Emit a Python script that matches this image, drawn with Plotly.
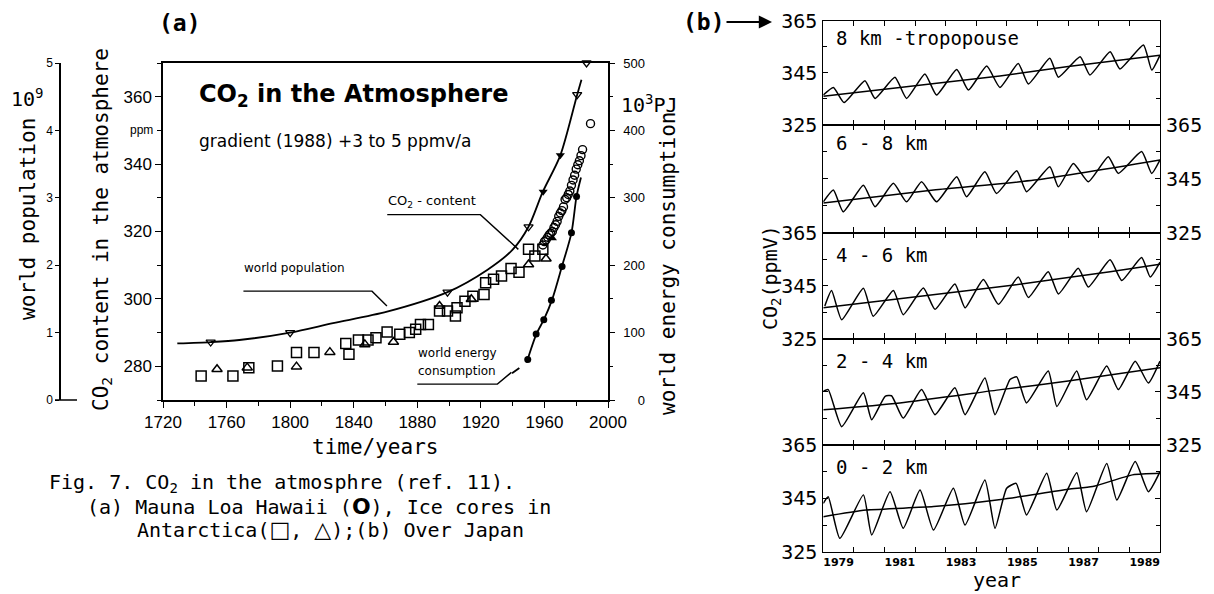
import plotly.graph_objects as go

# The page body has an 8px margin, so the figure is drawn 8px in from the top-left corner.
OFF = 8
W, H = 1214 - OFF, 594 - OFF
def px(x):
    return (x - OFF) / W
def py(y):
    return 1 - (y - OFF) / H

MONO = "DejaVu Sans Mono"
SANS = "Liberation Sans, Arial"
DSANS = "DejaVu Sans"
BLACK = "black"

# ---------------- Panel (a) data ----------------
pop_curve_year = [1729, 1750, 1768, 1800, 1827, 1861, 1899, 1924, 1940, 1950, 1959, 1970, 1980.6, 1983.3]
pop_curve_val = [0.84, 0.86, 0.89, 1.00, 1.14, 1.31, 1.60, 1.93, 2.23, 2.57, 3.09, 3.63, 4.53, 4.75]
pop_open_year = [1750, 1800, 1899, 1950, 1980.6, 1986.5]
pop_open_val = [0.86, 1.00, 1.60, 2.57, 4.53, 5.00]
pop_fill_year = [1959.2, 1970]
pop_fill_val = [3.09, 3.63]

sq_year = [1744, 1764, 1774, 1792, 1804, 1815, 1835, 1837, 1843, 1849, 1854, 1861, 1869, 1875,
           1879, 1882, 1887, 1894, 1899, 1904, 1905, 1910, 1915, 1922, 1923, 1928, 1933, 1939,
           1944, 1950, 1954, 1959]
sq_val = [277.1, 277.1, 279.6, 280.1, 284.1, 284.1, 286.8, 283.6, 287.8, 287.8, 288.5, 290.2, 289.5, 290.0,
          291.0, 292.4, 292.4, 296.4, 296.4, 294.9, 297.4, 299.3, 300.8, 301.3, 304.8, 305.8, 306.8, 309.0,
          307.9, 314.7, 312.7, 314.7]
tri_year = [1754, 1773, 1804, 1825, 1847, 1865, 1894, 1914, 1950, 1961]
tri_val = [279.1, 279.6, 279.9, 284.2, 286.5, 287.2, 297.9, 299.9, 310.2, 311.9]
tri_fill_year = [1965]
tri_fill_val = [318.0]
ml_year = [1959, 1960, 1961, 1962, 1963, 1964, 1965, 1966, 1967, 1968, 1969, 1970, 1971, 1972,
           1973, 1974, 1975, 1976, 1977, 1978, 1979, 1980, 1981, 1982, 1983, 1984, 1989]
ml_val = [316.0, 317.0, 317.5, 318.3, 319.0, 319.5, 320.0, 321.2, 322.0, 323.0, 324.5, 325.5, 326.2, 327.3,
          329.5, 330.0, 331.0, 332.0, 333.7, 335.3, 336.7, 338.5, 339.8, 341.0, 342.5, 344.3, 352.0]

en_pt_year = [1949.5, 1954.8, 1959.6, 1964.4, 1971.1, 1977.0, 1980.2]
en_pt_val = [60, 98, 119, 148, 198, 248, 302]
en_curve_year = [1949, 1955, 1960, 1965, 1971, 1977, 1980.2, 1983]
en_curve_val = [57, 98, 121, 150, 198, 248, 302, 330]
en_dash_year = [1939.6, 1944, 1949]
en_dash_val = [39.6, 47, 57]

x_ticks_a = [1720, 1760, 1800, 1840, 1880, 1920, 1960, 2000]
co2_ticks = [280, 300, 320, 340, 360]
pop_ticks = [0, 1, 2, 3, 4, 5]
en_ticks = [0, 100, 200, 300, 400, 500]

# ---------------- Panel (b) data ----------------
b_labels = ["8 km -tropopouse", "6 - 8 km", "4 - 6 km", "2 - 4 km", "0 - 2 km"]
b1_t = [1979.0, 1979.33, 1979.68, 1980.36, 1980.69, 1981.34, 1981.72, 1982.32, 1982.70, 1983.36, 1983.74, 1984.34,
        1984.77, 1985.37, 1985.70, 1986.40, 1986.68, 1987.39, 1987.71, 1988.37, 1988.69, 1989.46, 1989.73, 1990.0]
b1_v = [336.5, 339.4, 333.6, 342.0, 335.2, 343.3, 335.2, 344.6, 336.5, 346.3, 338.4, 347.6,
        339.4, 348.6, 340.7, 350.6, 343.3, 351.2, 344.2, 353.1, 346.5, 355.7, 346.1, 351.8]
b1_tt = [1979, 1981.5, 1984.77, 1987, 1990]
b1_tv = [336.0, 339.4, 343.8, 347.4, 351.8]

b2_t = [1979.0, 1979.33, 1979.65, 1980.31, 1980.69, 1981.29, 1981.72, 1982.21, 1982.70, 1983.36, 1983.68, 1984.28,
        1984.66, 1985.32, 1985.64, 1986.40, 1986.68, 1987.17, 1987.66, 1988.31, 1988.64, 1989.40, 1989.73, 1990.0]
b2_v = [336.4, 340.8, 332.7, 342.6, 334.6, 343.3, 336.4, 343.9, 336.4, 345.7, 338.3, 347.6,
        339.5, 348.0, 340.2, 349.5, 342.0, 350.7, 343.9, 353.2, 347.0, 355.1, 347.0, 352.0]
b2_tt = [1979, 1982.6, 1985.9, 1990]
b2_tv = [336.0, 340.8, 344.5, 352.0]

b3_t = [1979.05, 1979.27, 1979.60, 1980.31, 1980.63, 1981.29, 1981.61, 1982.27, 1982.65, 1983.30, 1983.63, 1984.23,
        1984.72, 1985.37, 1985.70, 1986.35, 1986.68, 1987.33, 1987.66, 1988.37, 1988.75, 1989.40, 1989.68, 1990.0]
b3_v = [337.3, 343.1, 332.1, 344.0, 333.4, 343.1, 334.0, 344.1, 336.0, 345.6, 336.6, 347.3,
        337.9, 348.2, 340.5, 350.2, 341.8, 351.5, 344.4, 354.7, 346.9, 355.6, 348.2, 353.8]
b3_tt = [1979, 1981.83, 1985.1, 1988.37, 1990]
b3_tv = [336.6, 340.5, 345.0, 350.2, 353.0]

b4_t = [1979.0, 1979.16, 1979.60, 1980.31, 1980.58, 1981.02, 1981.23, 1981.61, 1982.21, 1982.65, 1983.30, 1983.63,
        1984.28, 1984.61, 1985.10, 1985.32, 1985.64, 1986.35, 1986.63, 1987.28, 1987.60, 1988.26, 1988.64, 1989.19,
        1989.62, 1990.0]
b4_v = [345.2, 345.8, 331.9, 344.6, 334.5, 343.3, 343.5, 335.1, 345.8, 336.4, 346.5, 336.4,
        350.2, 336.4, 349.6, 350.6, 340.8, 352.8, 339.5, 352.8, 342.0, 354.7, 345.8, 356.5,
        348.3, 356.5]
b4_tt = [1979, 1981.5, 1984.8, 1987, 1990]
b4_tv = [338.2, 340.8, 345.8, 349.0, 354.0]

b5_t = [1979.0, 1979.16, 1979.54, 1980.31, 1980.58, 1981.18, 1981.61, 1982.16, 1982.60, 1983.25, 1983.63, 1984.28,
        1984.61, 1984.99, 1985.30, 1985.64, 1986.30, 1986.63, 1987.28, 1987.60, 1988.26, 1988.59, 1989.19, 1989.62,
        1990.0]
b5_v = [343.1, 345.6, 330.0, 346.3, 331.3, 347.5, 333.8, 348.1, 333.1, 348.8, 335.0, 351.9,
        333.8, 348.8, 350.6, 338.8, 354.4, 340.6, 354.6, 340.0, 358.1, 344.4, 358.8, 347.5,
        355.0]
b5_tt = [1979, 1980.4, 1982.6, 1984.8, 1987, 1987.8, 1989.1, 1990]
b5_tv = [338.1, 340.6, 341.9, 344.6, 348.4, 349.4, 353.8, 354.4]

b_series = [(b1_t, b1_v, b1_tt, b1_tv), (b2_t, b2_v, b2_tt, b2_tv), (b3_t, b3_v, b3_tt, b3_tv),
            (b4_t, b4_v, b4_tt, b4_tv), (b5_t, b5_v, b5_tt, b5_tv)]
b_ytick = [325, 345, 365]
b_yminor = [335, 355]
b_year_lab = [1979, 1981, 1983, 1985, 1987, 1989]
b_year_ticks = [1980, 1981, 1982, 1983, 1984, 1985, 1986, 1987, 1988, 1989]

fig = go.Figure()

# ---- Panel (a) traces ----
fig.add_trace(go.Scatter(x=pop_curve_year, y=pop_curve_val, yaxis="y2", mode="lines",
                         line=dict(color=BLACK, width=1.8, shape="spline", smoothing=0.8), hoverinfo="skip"))
fig.add_trace(go.Scatter(x=pop_open_year, y=pop_open_val, yaxis="y2", mode="markers", cliponaxis=False,
                         marker=dict(symbol="triangle-down-open", size=8, color=BLACK, line=dict(width=1.3))))
fig.add_trace(go.Scatter(x=pop_fill_year, y=pop_fill_val, yaxis="y2", mode="markers",
                         marker=dict(symbol="triangle-down", size=8, color=BLACK)))
fig.add_trace(go.Scatter(x=sq_year, y=sq_val, mode="markers",
                         marker=dict(symbol="square-open", size=10, color=BLACK, line=dict(width=1.5))))
fig.add_trace(go.Scatter(x=tri_year, y=tri_val, mode="markers",
                         marker=dict(symbol="triangle-up-open", size=9, color=BLACK, line=dict(width=1.5))))
fig.add_trace(go.Scatter(x=tri_fill_year, y=tri_fill_val, mode="markers",
                         marker=dict(symbol="triangle-up", size=8, color=BLACK)))
fig.add_trace(go.Scatter(x=ml_year, y=ml_val, mode="markers",
                         marker=dict(symbol="circle-open", size=8, color=BLACK, line=dict(width=1.4))))
fig.add_trace(go.Scatter(x=en_dash_year, y=en_dash_val, yaxis="y3", mode="lines",
                         line=dict(color=BLACK, width=1.8, dash="dash")))
fig.add_trace(go.Scatter(x=en_curve_year, y=en_curve_val, yaxis="y3", mode="lines",
                         line=dict(color=BLACK, width=1.8, shape="spline", smoothing=0.8)))
fig.add_trace(go.Scatter(x=en_pt_year, y=en_pt_val, yaxis="y3", mode="markers",
                         marker=dict(symbol="circle", size=7, color=BLACK)))

# ---- Panel (b) traces ----
for i, (t, v, tt, tv) in enumerate(b_series):
    xa = "x%d" % (2 + i)
    ya = "y%d" % (4 + i)
    fig.add_trace(go.Scatter(x=t, y=v, xaxis=xa, yaxis=ya, mode="lines",
                             line=dict(color=BLACK, width=1.5, shape="spline", smoothing=0.5)))
    fig.add_trace(go.Scatter(x=tt, y=tv, xaxis=xa, yaxis=ya, mode="lines",
                             line=dict(color=BLACK, width=1.5, shape="spline", smoothing=0.6)))

axis_common = dict(showgrid=False, zeroline=False, showline=True, linecolor=BLACK, linewidth=1.5,
                   tickcolor=BLACK, tickwidth=1.3, automargin=False)

layout = dict(
    width=W, height=H, margin=dict(l=0, r=0, t=0, b=0, autoexpand=False),
    paper_bgcolor="white", plot_bgcolor="white", showlegend=False,
    xaxis=dict(domain=[px(163), px(608)], range=[1720, 2000], tickvals=x_ticks_a,
               ticks="outside", ticklen=6, mirror=True,
               minor=dict(dtick=20, tick0=1720, ticks="outside", ticklen=4, tickcolor=BLACK),
               tickfont=dict(family=SANS, size=17, color=BLACK), anchor="y", **axis_common),
    yaxis=dict(domain=[py(400), py(63)], range=[270, 370], tickvals=co2_ticks,
               ticks="outside", ticklen=6, mirror=True,
               minor=dict(dtick=10, tick0=270, ticks="outside", ticklen=4, tickcolor=BLACK),
               tickfont=dict(family=SANS, size=17, color=BLACK), anchor="x", **axis_common),
    yaxis2=dict(overlaying="y", anchor="free", position=px(60), side="left", range=[0, 5],
                tickvals=pop_ticks, ticks="outside", ticklen=4,
                tickfont=dict(family=SANS, size=12, color=BLACK), **axis_common),
    yaxis3=dict(overlaying="y", anchor="x", side="right", range=[0, 500], tickvals=en_ticks,
                ticktext=["\u2007\u20070"] + [str(v) for v in en_ticks[1:]],
                ticks="outside", ticklen=5,
                minor=dict(dtick=50, ticks="outside", ticklen=3, tickcolor=BLACK),
                tickfont=dict(family=SANS, size=13, color=BLACK), ticklabelstandoff=6, **axis_common),
)

bounds = [20.7, 125.0, 232.5, 338.5, 445.0, 551.7]
b_common = dict(axis_common)
b_common["linewidth"] = 1.1
for i in range(5):
    xname = "xaxis%d" % (2 + i)
    yname = "yaxis%d" % (4 + i)
    last = (i == 4)
    layout[xname] = dict(domain=[px(823.3), px(1160)], range=[1979, 1990],
                         tickvals=[y + 0.5 for y in b_year_lab], ticktext=[str(y) for y in b_year_lab],
                         ticks="inside", ticklen=0, showticklabels=last, mirror="ticks",
                         minor=dict(tickvals=b_year_ticks, ticks="inside", ticklen=5, tickcolor=BLACK),
                         tickfont=dict(family=DSANS, size=11, color=BLACK, weight="bold"),
                         anchor="y%d" % (4 + i), **b_common)
    layout[yname] = dict(domain=[py(bounds[i + 1]), py(bounds[i])], range=[325, 365], tickvals=b_ytick,
                         ticks="inside", ticklen=5, mirror="ticks", side="left" if i % 2 == 0 else "right",
                         minor=dict(tickvals=b_yminor, ticks="inside", ticklen=4, tickcolor=BLACK),
                         tickfont=dict(family=MONO, size=20, color=BLACK), ticklabelstandoff=1,
                         anchor="x%d" % (2 + i), **b_common)

fig.update_layout(**layout)

ann = []
def text(x, y, s, size, family=MONO, xanchor="left", angle=0, **kw):
    ann.append(dict(x=px(x), y=py(y), xref="paper", yref="paper", text=s, showarrow=False,
                    xanchor=xanchor, yanchor="middle", textangle=angle,
                    font=dict(family=family, size=size, color=BLACK), **kw))

SYM = '<span style="font-family:DejaVu Sans;font-size:22px"><b>%s</b></span>'
text(180, 23, "<b>(a)</b>", 23, xanchor="center")
text(28, 219, "world population", 21, xanchor="center", angle=-90)
text(27, 98, "10<sup>9</sup>", 20, xanchor="center")
text(102, 230, "CO<sub>2</sub> content in the atmosphere", 21, xanchor="center", angle=-90)
text(141, 130, "ppm", 12, family=SANS, xanchor="center")
text(668, 263, "world energy consumption", 21, xanchor="center", angle=-90)
text(649, 104, "10<sup>3</sup>PJ", 20, xanchor="center")
text(375, 447, "time/years", 21, xanchor="center")
text(197, 95, "<b>CO<sub>2</sub> in the Atmosphere</b>", 24, family=DSANS)
text(197, 141, "gradient (1988) +3 to 5 ppmv/a", 17, family=DSANS)
text(386, 201, "CO<sub>2</sub> - content", 13, family=DSANS)
text(242, 268, "world population", 12, family=DSANS)
text(416, 353, "world energy", 12, family=DSANS)
text(416, 371, "consumption", 12, family=DSANS)
text(47, 483, "Fig. 7. CO<sub>2</sub> in the atmosphre (ref. 11).", 20)
text(85, 506, "(a) Mauna Loa Hawaii (" + SYM % "O" + "), Ice cores in", 20)
text(135, 529, "Antarctica(" + SYM % "□" + ", " + SYM % "△" + ");(b) Over Japan", 20)

# panel (b) texts
label_y = [38, 143, 255, 361, 467]
for lab, yy in zip(b_labels, label_y):
    text(834, yy, lab, 19)
text(771, 277, "CO<sub>2</sub>(ppmV)", 20, xanchor="center", angle=-90)
text(997, 580, "year", 20, xanchor="center")
ann.append(dict(x=px(772), y=py(22), xref="paper", yref="paper", text="<b>(b)</b>", showarrow=True,
                ax=-68, ay=0, arrowhead=2, arrowsize=1.2, arrowwidth=2.2, arrowcolor=BLACK,
                font=dict(family=MONO, size=23, color=BLACK)))
fig.update_layout(annotations=ann)

# leader lines for in-plot labels (data coordinates on CO2 axis)
lead_co2_x = [1861.1, 1919.7, 1943.6]
lead_co2_y = [325.0, 325.0, 314.7]
lead_pop_x = [1770.6, 1851.5, 1860.9]
lead_pop_y = [302.3, 302.3, 297.9]
lead_en_x = [1880.0, 1930.4, 1939.2]
lead_en_y = [274.7, 274.7, 278.2]
shapes = []
for lx, ly in [(lead_co2_x, lead_co2_y), (lead_pop_x, lead_pop_y), (lead_en_x, lead_en_y)]:
    path = "M %f,%f L %f,%f L %f,%f" % (lx[0], ly[0], lx[1], ly[1], lx[2], ly[2])
    shapes.append(dict(type="path", path=path, xref="x", yref="y", line=dict(color=BLACK, width=1.4)))
shapes.append(dict(type="line", xref="paper", yref="paper", x0=px(55), x1=px(77), y0=py(400), y1=py(400),
                   line=dict(color=BLACK, width=1.5)))
fig.update_layout(shapes=shapes)

fig.write_html("out.html")
